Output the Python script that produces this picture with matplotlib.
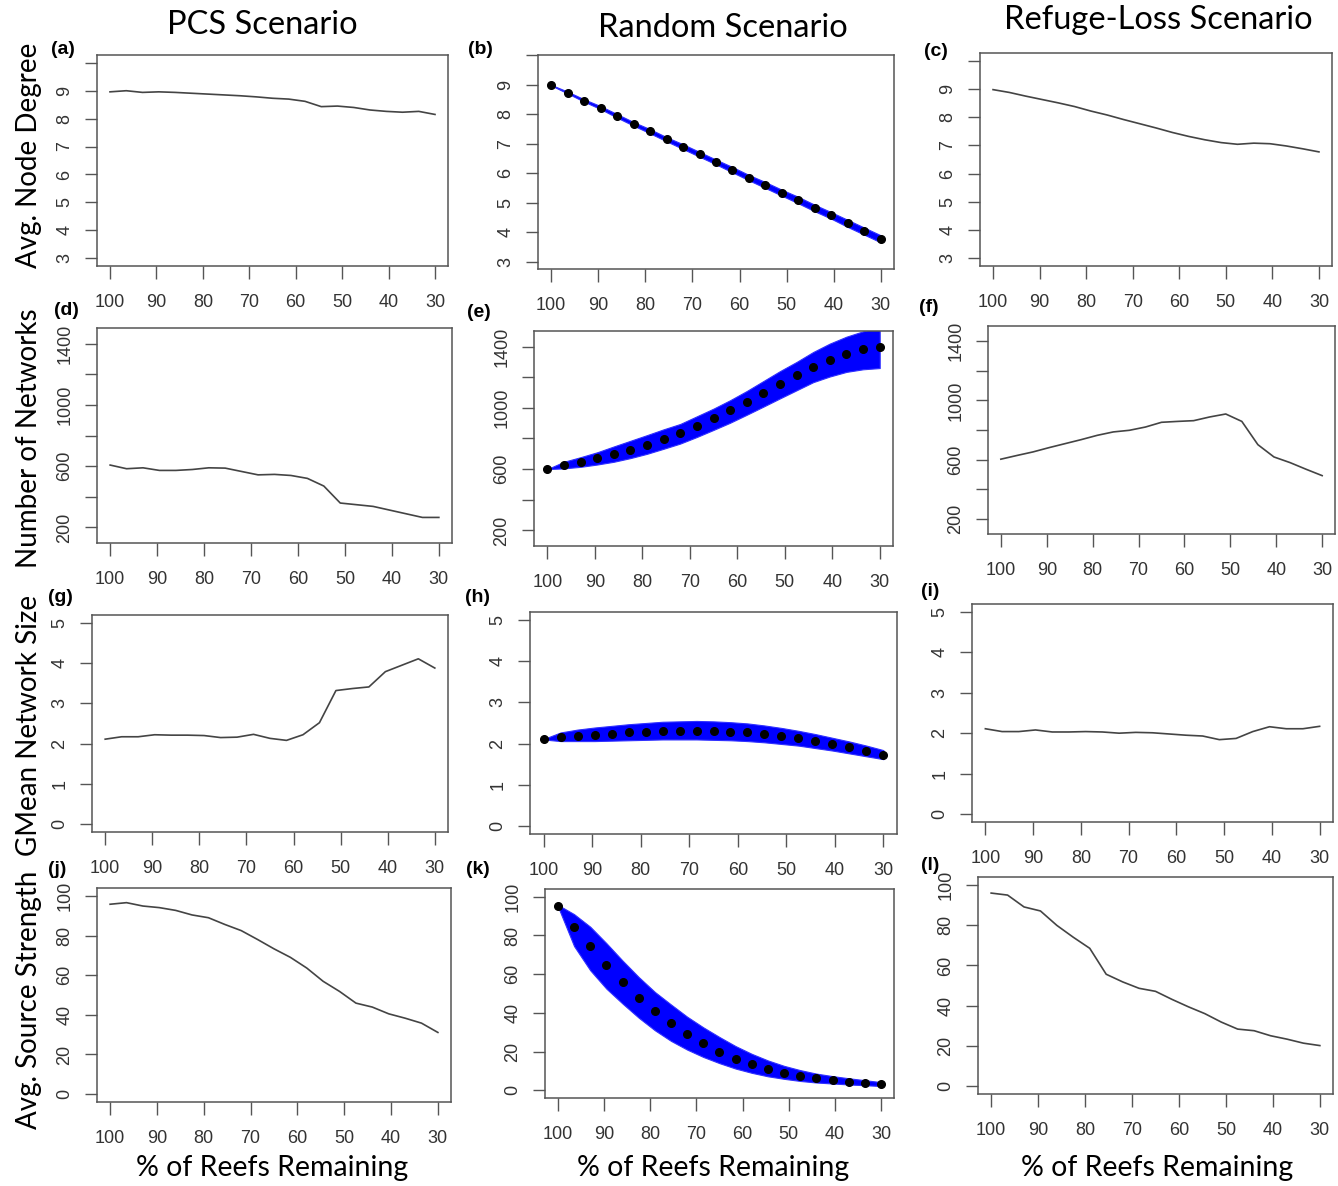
import numpy as np
import matplotlib
matplotlib.use("Agg")
import matplotlib.pyplot as plt

plt.rcParams["font.family"] = ["Liberation Sans", "DejaVu Sans"]

# x axis: % of reefs remaining, 21 steps of 3.5
pct = [100, 96.5, 93, 89.5, 86, 82.5, 79, 75.5, 72, 68.5, 65,
       61.5, 58, 54.5, 51, 47.5, 44, 40.5, 37, 33.5, 30]

# Avg. node degree
deg_pcs = [8.96, 9.0, 8.94, 8.96, 8.94, 8.91, 8.88, 8.85, 8.82, 8.78, 8.73,
           8.70, 8.62, 8.43, 8.45, 8.40, 8.31, 8.26, 8.23, 8.26, 8.15]
deg_rand = [8.98, 8.73, 8.46, 8.22, 7.94, 7.67, 7.42, 7.15, 6.90, 6.64, 6.38,
            6.12, 5.85, 5.60, 5.34, 5.09, 4.82, 4.57, 4.30, 4.04, 3.78]
deg_rand_lo = [8.97, 8.70, 8.42, 8.17, 7.88, 7.61, 7.35, 7.08, 6.82, 6.56, 6.30,
               6.03, 5.76, 5.50, 5.24, 4.98, 4.71, 4.46, 4.18, 3.92, 3.66]
deg_rand_hi = [8.99, 8.76, 8.50, 8.27, 8.00, 7.73, 7.49, 7.22, 6.98, 6.72, 6.46,
               6.21, 5.94, 5.70, 5.44, 5.20, 4.93, 4.68, 4.42, 4.16, 3.90]
deg_refuge = [8.98, 8.88, 8.75, 8.63, 8.51, 8.38, 8.22, 8.08, 7.92, 7.77, 7.62,
              7.46, 7.32, 7.20, 7.10, 7.04, 7.08, 7.06, 6.98, 6.88, 6.77]

# Number of networks
net_pcs = [607, 583, 589, 572, 572, 578, 589, 587, 565, 543, 546,
           539, 520, 470, 359, 348, 337, 313, 289, 265, 265]
net_rand = [600, 624, 644, 670, 696, 727, 760, 799, 838, 884, 932,
            985, 1040, 1099, 1153, 1212, 1267, 1315, 1355, 1385, 1398]
net_rand_lo = [600, 605, 615, 630, 648, 672, 700, 733, 767, 810, 856,
               903, 955, 1008, 1062, 1115, 1168, 1205, 1235, 1252, 1260]
net_rand_hi = [600, 648, 678, 710, 748, 785, 822, 860, 895, 945, 995,
               1050, 1110, 1175, 1240, 1300, 1365, 1420, 1465, 1500, 1525]
net_refuge = [603, 628, 652, 681, 708, 735, 764, 787, 798, 820, 852,
              858, 863, 888, 908, 858, 701, 618, 580, 535, 492]

# GMean network size
size_pcs = [2.11, 2.17, 2.17, 2.22, 2.21, 2.21, 2.20, 2.15, 2.16, 2.23, 2.13,
            2.08, 2.22, 2.52, 3.32, 3.37, 3.41, 3.79, 3.95, 4.11, 3.88]
size_rand = [2.11, 2.15, 2.19, 2.21, 2.24, 2.27, 2.29, 2.31, 2.31, 2.31, 2.31,
             2.29, 2.27, 2.23, 2.19, 2.13, 2.06, 1.99, 1.91, 1.82, 1.72]
size_rand_lo = [2.10, 2.06, 2.06, 2.06, 2.07, 2.08, 2.09, 2.10, 2.10, 2.10, 2.09,
                2.08, 2.06, 2.03, 1.99, 1.95, 1.89, 1.83, 1.76, 1.69, 1.62]
size_rand_hi = [2.11, 2.27, 2.34, 2.39, 2.43, 2.47, 2.50, 2.53, 2.54, 2.55, 2.54,
                2.52, 2.49, 2.44, 2.38, 2.31, 2.23, 2.14, 2.05, 1.95, 1.84]
size_refuge = [2.11, 2.04, 2.04, 2.08, 2.03, 2.03, 2.04, 2.03, 2.00, 2.02, 2.01,
               1.98, 1.95, 1.93, 1.84, 1.87, 2.04, 2.16, 2.11, 2.11, 2.17]

# Avg. source strength
src_pcs = [95.8, 96.6, 94.9, 94.1, 92.7, 90.4, 89.0, 85.6, 82.5, 78.0, 73.3,
           69.0, 63.6, 56.9, 51.8, 45.9, 43.9, 40.5, 38.3, 35.8, 31.1]
src_rand = [95.4, 84.2, 74.3, 64.5, 55.8, 47.9, 40.7, 34.6, 29.1, 24.3, 20.0,
            16.4, 13.5, 11.0, 9.1, 7.5, 6.2, 5.3, 4.5, 3.8, 3.1]
src_rand_lo = [95.0, 74.5, 62.0, 52.5, 44.8, 37.5, 31.0, 25.5, 21.0, 17.2, 14.0,
               11.2, 9.0, 7.2, 5.9, 4.8, 4.0, 3.5, 3.0, 2.6, 2.2]
src_rand_hi = [95.8, 91.0, 84.5, 76.0, 67.0, 58.5, 50.8, 44.3, 38.0, 32.5, 27.5,
               22.8, 18.8, 15.4, 12.6, 10.4, 8.6, 7.3, 6.2, 5.2, 4.2]
src_refuge = [96.0, 95.0, 89.1, 87.1, 79.9, 74.0, 68.5, 55.6, 51.8, 48.6, 47.1,
              43.1, 39.4, 36.0, 31.8, 28.3, 27.5, 25.0, 23.3, 21.3, 20.1]

x_ticks = [100, 90, 80, 70, 60, 50, 40, 30]
scenarios = ["PCS Scenario", "Random Scenario", "Refuge-Loss Scenario"]
row_labels = ["Avg. Node Degree", "Number of Networks",
              "GMean Network Size", "Avg. Source Strength"]
panel_tags = ["(a)", "(b)", "(c)", "(d)", "(e)", "(f)",
              "(g)", "(h)", "(i)", "(j)", "(k)", "(l)"]

W, H = 1338, 1186
fig = plt.figure(figsize=(W / 100, H / 100), dpi=100)

# box edges in pixels: left, right, top, bottom
boxes = [
    (97, 448, 55, 266), (538, 894, 55, 269), (980, 1332, 53, 266),
    (97, 452, 328, 543), (534, 893, 331, 546), (988, 1335, 326, 534),
    (92, 448, 615, 832), (530, 897, 612, 834), (972, 1333, 604, 822),
    (97, 451, 888, 1102), (545, 894, 889, 1098), (978, 1333, 877, 1094),
]
# panel tag centres in pixels
tag_pos = [
    (63, 50), (480, 50), (936, 52), (66, 310), (479, 312), (929, 308),
    (60, 597), (478, 597), (930, 592), (57, 870), (478, 870), (930, 866),
]

rows = [
    dict(series=[deg_pcs, (deg_rand, deg_rand_lo, deg_rand_hi), deg_refuge],
         ylims=[(3, 10), (3, 9), (3, 10)],
         yticks=[3, 4, 5, 6, 7, 8, 9, 10], ylabels=["3", "4", "5", "6", "7", "8", "9", ""]),
    dict(series=[net_pcs, (net_rand, net_rand_lo, net_rand_hi), net_refuge],
         ylims=[(150, 1450)] * 3,
         yticks=[200, 400, 600, 800, 1000, 1200, 1400],
         ylabels=["200", "", "600", "", "1000", "", "1400"]),
    dict(series=[size_pcs, (size_rand, size_rand_lo, size_rand_hi), size_refuge],
         ylims=[(0, 5)] * 3,
         yticks=[0, 1, 2, 3, 4, 5], ylabels=["0", "1", "2", "3", "4", "5"]),
    dict(series=[src_pcs, (src_rand, src_rand_lo, src_rand_hi), src_refuge],
         ylims=[(0, 100)] * 3,
         yticks=[0, 20, 40, 60, 80, 100], ylabels=["0", "20", "40", "60", "80", "100"]),
]

frame_col = "#555555"
text_col = "#333333"

for r, row in enumerate(rows):
    for c in range(3):
        k = r * 3 + c
        l, rt, t, b = boxes[k]
        ax = fig.add_axes([l / W, 1 - b / H, (rt - l) / W, (b - t) / H])
        s = row["series"][c]
        if c == 1:
            mean, lo, hi = s
            ax.fill_between(pct, lo, hi, color="#0000ff", lw=0.8, edgecolor="#3030ff")
            ax.plot(pct, mean, "o", color="black", ms=5.5)
        else:
            ax.plot(pct, s, color="#444444", lw=1.2)
        y0, y1 = row["ylims"][c]
        pad = 0.04 * (y1 - y0)
        ax.set_ylim(y0 - pad, y1 + pad)
        ax.set_xlim(102.8, 27.2)
        ax.set_xticks(x_ticks)
        ax.set_xticklabels([str(v) for v in x_ticks])
        ax.set_yticks(row["yticks"])
        ax.set_yticklabels(row["ylabels"], rotation=90, va="center")
        ax.tick_params(direction="out", length=9, width=1, color=frame_col,
                       labelsize=13, labelcolor=text_col)
        ax.tick_params(axis="x", pad=11)
        ax.tick_params(axis="y", pad=8)
        for sp in ax.spines.values():
            sp.set_color(frame_col)
            sp.set_linewidth(1.1)
        tx, ty = tag_pos[k]
        fig.text(tx / W, 1 - ty / H, panel_tags[k], fontsize=14,
                 fontweight="bold", ha="center", va="center")

# column titles
for xc, yc, name in [(262, 25, scenarios[0]), (723, 28, scenarios[1]),
                     (1158, 20, scenarios[2])]:
    fig.text(xc / W, 1 - yc / H, name, fontsize=23.5, family=["Lato", "DejaVu Sans"],
             ha="center", va="center")

# row labels
for yc, name in zip([155, 438, 725, 1000], row_labels):
    fig.text(29 / W, 1 - yc / H, name, fontsize=20, family=["Lato", "DejaVu Sans"],
             rotation=90, ha="center", va="center")

# x axis labels
for xc in [272, 713, 1157]:
    fig.text(xc / W, 1 - 1168 / H, "% of Reefs Remaining", fontsize=20.5,
             family=["Lato", "DejaVu Sans"], ha="center", va="center")

fig.savefig("out.png", dpi=100)
